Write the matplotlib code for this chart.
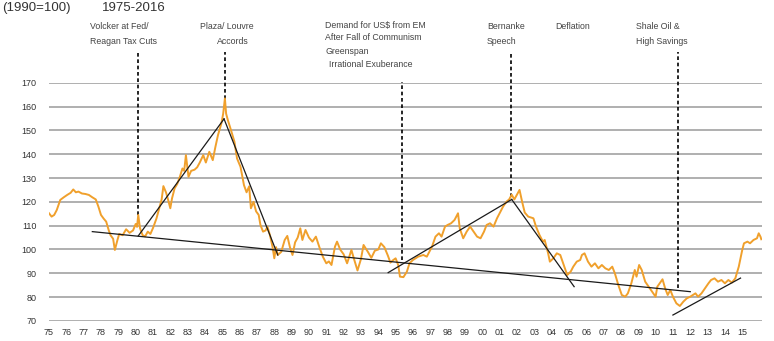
import matplotlib
matplotlib.use("Agg")
import matplotlib.pyplot as plt

plt.rcParams['font.family'] = ['Liberation Sans', 'DejaVu Sans']

# Index (1990=100): decimal year, value
years = [
    1975.00, 1975.15, 1975.30, 1975.45, 1975.55, 1975.65, 1975.85, 1976.05, 1976.25, 1976.40,
    1976.55, 1976.70, 1976.90, 1977.10, 1977.30, 1977.50, 1977.70, 1977.85, 1978.00, 1978.15,
    1978.30, 1978.45, 1978.55, 1978.70, 1978.80, 1978.95, 1979.05, 1979.25, 1979.45, 1979.65,
    1979.85, 1980.00, 1980.08, 1980.15, 1980.25, 1980.40, 1980.55, 1980.70, 1980.85, 1981.00,
    1981.20, 1981.35, 1981.50, 1981.60, 1981.75, 1981.85, 1982.00, 1982.10, 1982.25, 1982.40,
    1982.55, 1982.70, 1982.80, 1982.90, 1983.05, 1983.20, 1983.40, 1983.55, 1983.70, 1983.90,
    1984.05, 1984.25, 1984.45, 1984.60, 1984.75, 1984.95, 1985.05, 1985.15, 1985.22, 1985.32,
    1985.50, 1985.70, 1985.85, 1986.05, 1986.25, 1986.40, 1986.55, 1986.65, 1986.80, 1986.95,
    1987.10, 1987.20, 1987.35, 1987.50, 1987.60, 1987.75, 1987.90, 1988.00, 1988.10, 1988.20,
    1988.40, 1988.60, 1988.75, 1988.90, 1989.05, 1989.20, 1989.35, 1989.50, 1989.62, 1989.80,
    1990.00, 1990.20, 1990.40, 1990.60, 1990.80, 1991.00, 1991.15, 1991.30, 1991.50, 1991.62,
    1991.80, 1992.00, 1992.20, 1992.45, 1992.60, 1992.80, 1993.00, 1993.15, 1993.40, 1993.60,
    1993.80, 1994.00, 1994.15, 1994.35, 1994.55, 1994.70, 1994.85, 1995.00, 1995.15, 1995.25,
    1995.45, 1995.65, 1995.80, 1996.00, 1996.30, 1996.60, 1996.80, 1997.10, 1997.30, 1997.50,
    1997.65, 1997.85, 1998.00, 1998.20, 1998.40, 1998.60, 1998.70, 1998.90, 1999.10, 1999.30,
    1999.50, 1999.70, 1999.90, 2000.10, 2000.25, 2000.45, 2000.65, 2000.85, 2001.00, 2001.20,
    2001.40, 2001.55, 2001.70, 2001.85, 2002.00, 2002.15, 2002.30, 2002.45, 2002.65, 2002.95,
    2003.10, 2003.30, 2003.50, 2003.60, 2003.80, 2003.90, 2004.10, 2004.30, 2004.50, 2004.70,
    2004.90, 2005.10, 2005.25, 2005.45, 2005.65, 2005.75, 2005.90, 2006.10, 2006.30, 2006.50,
    2006.70, 2006.90, 2007.10, 2007.30, 2007.50, 2007.65, 2007.85, 2008.05, 2008.25, 2008.40,
    2008.60, 2008.80, 2008.90, 2009.05, 2009.20, 2009.40, 2009.60, 2009.80, 2010.00, 2010.10,
    2010.30, 2010.40, 2010.55, 2010.70, 2010.85, 2011.00, 2011.20, 2011.40, 2011.60, 2011.80,
    2012.00, 2012.30, 2012.45, 2012.65, 2012.85, 2013.05, 2013.20, 2013.40, 2013.60, 2013.80,
    2014.00, 2014.20, 2014.40, 2014.60, 2014.80, 2015.00, 2015.10, 2015.30, 2015.45, 2015.65,
    2015.85, 2015.95, 2016.05, 2016.10,
]
values = [
    115.2, 113.8, 114.5, 116.6, 118.7, 120.8, 121.9, 122.9, 123.8, 125.2,
    124.0, 124.3, 123.5, 123.3, 122.9, 121.9, 121.0, 118.0, 114.5, 113.0,
    111.7, 108.0, 106.0, 104.5, 99.8, 104.0, 106.5, 106.0, 108.5, 107.0,
    108.0, 110.7, 109.5, 114.5, 109.0, 106.0, 105.5, 107.5, 106.5, 109.0,
    113.0, 117.0, 121.0, 126.6, 124.0, 121.5, 117.3, 121.5, 125.7, 127.5,
    130.5, 134.0, 133.0, 139.6, 130.5, 133.0, 133.5, 134.5, 136.5, 139.6,
    136.5, 141.0, 137.5, 143.0, 148.0, 153.0, 157.0, 163.4, 157.0, 154.3,
    150.1, 145.2, 138.2, 134.7, 127.0, 124.0, 126.5, 117.3, 120.0, 116.0,
    114.5, 110.3, 107.5, 108.0, 109.6, 106.0, 101.0, 96.3, 101.0, 97.7,
    99.0, 104.0, 105.7, 101.0, 97.7, 103.0, 105.0, 108.9, 104.0, 108.2,
    105.0, 103.3, 105.4, 101.0, 97.0, 94.2, 95.0, 93.5, 101.2, 103.3,
    100.0, 98.0, 94.2, 99.8, 96.0, 91.2, 96.0, 101.9, 99.0, 96.5,
    99.5, 100.0, 102.6, 101.0, 97.5, 94.5, 95.5, 96.3, 93.5, 88.6,
    88.4, 90.7, 94.2, 95.6, 97.0, 97.7, 97.0, 101.2, 105.4, 106.8,
    105.4, 109.6, 110.3, 111.0, 112.4, 115.2, 108.9, 104.7, 107.5, 109.6,
    107.5, 105.4, 104.7, 107.5, 110.3, 111.0, 109.6, 113.1, 115.2, 118.0,
    120.1, 121.0, 123.0, 121.0, 123.0, 125.0, 120.0, 115.5, 113.8, 113.1,
    109.6, 106.1, 103.3, 104.0, 98.4, 94.9, 96.3, 98.4, 97.7, 93.5,
    89.3, 90.7, 92.8, 94.9, 95.6, 97.7, 98.4, 94.9, 92.8, 94.2,
    92.1, 93.5, 92.1, 91.4, 92.8, 90.0, 85.1, 80.9, 80.2, 81.6,
    85.8, 91.4, 88.6, 93.5, 91.4, 86.5, 84.4, 82.3, 80.2, 84.4,
    86.5, 87.5, 83.7, 80.9, 83.0, 80.2, 77.4, 76.3, 78.1, 79.5,
    80.2, 81.6, 80.2, 81.6, 83.7, 85.8, 87.2, 87.9, 86.5, 87.2,
    85.8, 87.2, 86.1, 87.9, 92.8, 99.8, 102.6, 103.3, 102.6, 104.0,
    104.7, 106.8, 105.4, 104.3,
]

# Trend lines: (x0, y0) -> (x1, y1)
trend_x0 = [1977.5, 1980.15, 1985.1, 1994.57, 2001.7, 2011.0]
trend_y0 = [107.5, 105.7, 154.8, 90.3, 121.0, 72.5]
trend_x1 = [2012.0, 1985.1, 1988.2, 2001.7, 2005.3, 2014.9]
trend_y1 = [82.3, 154.8, 97.7, 121.0, 84.4, 88.0]

# Event markers (dashed verticals)
event_x = [1980.14, 1985.16, 1995.35, 2001.66, 2011.3]
event_top = [182.9, 182.9, 170.3, 182.9, 182.9]
event_bottom = [114.5, 163.0, 95.6, 122.0, 83.8]

# Event annotations
note_x = [1977.37, 1977.37, 1983.71, 1984.69, 1990.93, 1990.93, 1990.93, 1991.16,
          2000.27, 2000.27, 2004.2, 2008.87, 2008.87]
note_y = [193.4, 187.1, 193.4, 187.1, 194.2, 188.8, 182.9, 177.8,
          193.4, 187.1, 193.4, 193.4, 187.1]
note_text = ["Volcker at Fed/", "Reagan Tax Cuts", "Plaza/ Louvre", "Accords",
             "Demand for US$ from EM", "After Fall of Communism", "Greenspan",
             "Irrational Exuberance", "Bernanke", "Speech", "Deflation",
             "Shale Oil &", "High Savings"]

tick_years = list(range(1975, 2016))
tick_labels = [f"{y % 100:02d}" for y in tick_years]
y_ticks = list(range(70, 171, 10))

fig = plt.figure(figsize=(7.74, 3.41), dpi=100)
ax = fig.add_axes([0.0633, 0.0587, 0.9212, 0.6988])

for v in y_ticks:
    ax.axhline(v, color='#9a9a9a', linewidth=1.1, zorder=1)

ax.plot(years, values, color='#f0a02c', linewidth=1.4, zorder=3)

for x0, y0, x1, y1 in zip(trend_x0, trend_y0, trend_x1, trend_y1):
    ax.plot([x0, x1], [y0, y1], color='#1a1a1a', linewidth=0.9, zorder=4)

for x, top, bot in zip(event_x, event_top, event_bottom):
    ax.plot([x, x], [bot, top], color='black', linewidth=1.2,
            linestyle=(0, (2.2, 1.6)), clip_on=False, zorder=2)

for x, y, t in zip(note_x, note_y, note_text):
    ax.text(x, y, t, fontsize=6.3, color='#444444', ha='left', va='center',
            clip_on=False)

ax.set_xlim(1975, 2016.14)
ax.set_ylim(70, 170)
ax.set_xticks(tick_years)
ax.set_xticklabels(tick_labels)
ax.set_yticks(y_ticks)
ax.tick_params(axis='both', length=0, labelsize=6.5, colors='#333333')
ax.tick_params(axis='x', pad=5)
ax.tick_params(axis='y', pad=9)
for s in ax.spines.values():
    s.set_visible(False)

fig.text(2 / 774, 1 - 8 / 341, "(1990=100)", fontsize=9.5, color='#333333',
         ha='left', va='center')
fig.text(102 / 774, 1 - 8 / 341, "1975-2016", fontsize=9.5, color='#333333',
         ha='left', va='center')

fig.savefig("out.png", dpi=100)
